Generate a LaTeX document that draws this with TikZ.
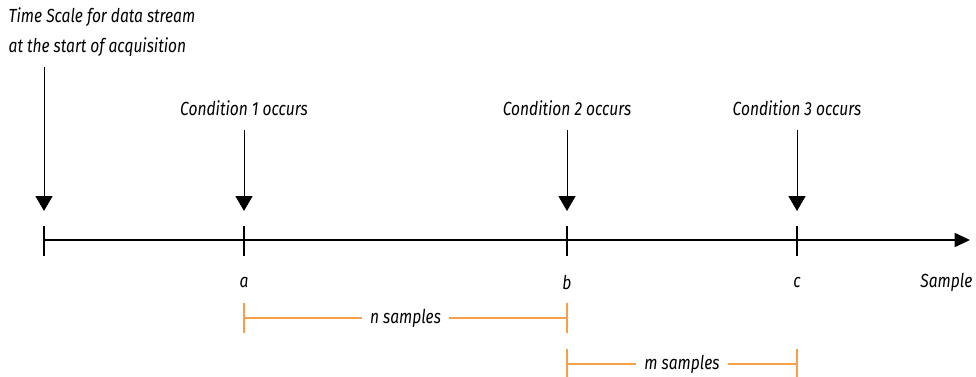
\documentclass[tikz,border=0pt]{standalone}
\usepackage{fontspec}
\setmainfont{Fira Sans}[FakeStretch=0.82]
\usetikzlibrary{arrows.meta,positioning,calc}
\definecolor{spanorange}{RGB}{247,160,72}
\newcommand{\lblfont}{\itshape\fontsize{13.5}{21.5}\selectfont}
\tikzset{
  lbl/.style={font=\lblfont, inner sep=1pt},
  axisline/.style={line width=1.4pt},
  tickline/.style={line width=1.5pt},
  pointer/.style={line width=0.6pt, -{Triangle[width=12pt,length=10.5pt]}},
  span/.style={draw=spanorange, line width=0.9pt},
  spanlbl/.style={font=\lblfont, fill=white, inner xsep=6pt, inner ysep=1pt}
}

\begin{document}
\begin{tikzpicture}[x=0.025cm, y=-0.025cm, line cap=butt]
  \useasboundingbox (0,0) rectangle (976,376);

  % positions on the time line
  \coordinate (T0) at (44,240);
  \coordinate (Ta) at (244,240);
  \coordinate (Tb) at (567,240);
  \coordinate (Tc) at (797,240);
  \coordinate (Tend) at (970,240);

  % the time line and its ticks
  \draw[axisline, -{Triangle[width=10pt,length=11pt]}] (T0) -- (Tend);
  \foreach \t in {T0,Ta,Tb,Tc}
    \draw[tickline] ($(\t)+(0,-14)$) -- ($(\t)+(0,16)$);

  % labels above
  \node[lbl, align=left, anchor=north west] (start) at (7,6)
    {Time Scale for data stream\\at the start of acquisition};
  \node[lbl] (cond1) at (244,108) {Condition 1 occurs};
  \node[lbl] (cond2) at (567,108) {Condition 2 occurs};
  \node[lbl] (cond3) at (797,108) {Condition 3 occurs};

  % arrow tips just above the ticks
  \coordinate (P0) at (44,211);
  \coordinate (Pa) at (244,211);
  \coordinate (Pb) at (567,211);
  \coordinate (Pc) at (797,211);

  \draw[pointer, shorten <=6pt] (start.south -| P0) -- (P0);
  \draw[pointer, shorten <=9pt] (cond1) -- (Pa);
  \draw[pointer, shorten <=9pt] (cond2) -- (Pb);
  \draw[pointer, shorten <=9pt] (cond3) -- (Pc);

  % sample points
  \node[lbl] (la) at (244,282) {a};
  \node[lbl] (lb) at (567,282) {b};
  \node[lbl] (lc) at (797,282) {c};
  \node[lbl, anchor=east] (smp) at (974,282) {Sample};

  % sample spans
  \coordinate (Na) at (244,318);
  \coordinate (Nb) at (567,318);
  \coordinate (Mb) at (567,364);
  \coordinate (Mc) at (797,364);
  \draw[span] (Na) -- node[spanlbl, pos=0.5] (nspan) {n samples} (Nb);
  \draw[span] (Mb) -- node[spanlbl, pos=0.5] (mspan) {m samples} (Mc);
  \foreach \t in {Na,Nb,Mb,Mc}
    \draw[span] ($(\t)+(0,-15)$) -- ($(\t)+(0,15)$);
\end{tikzpicture}
\end{document}
